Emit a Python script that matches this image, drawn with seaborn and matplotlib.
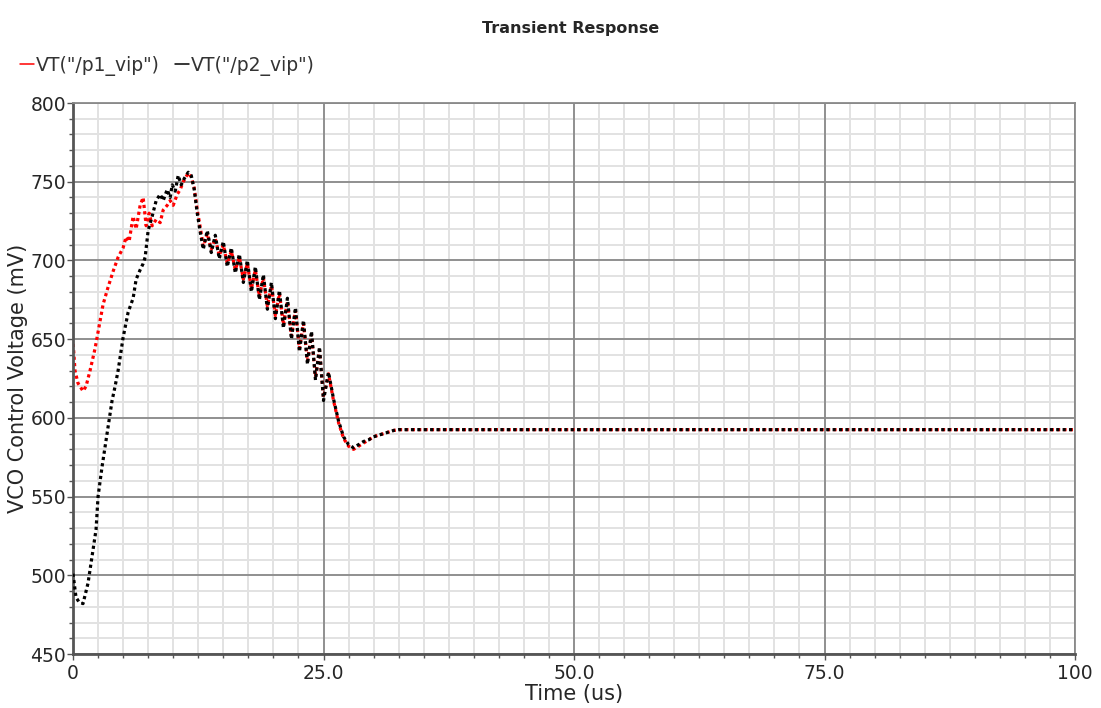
import numpy as np
import pandas as pd
import matplotlib
matplotlib.use("Agg")
import matplotlib.pyplot as plt
from matplotlib.lines import Line2D
from matplotlib.ticker import MultipleLocator
import seaborn as sns

# p1 (red) - time in us, voltage in mV
p1_time = [0, 0.2, 0.5, 0.8, 1.0, 1.3, 1.7, 2.2, 2.6, 3.0, 3.5, 4.0, 4.5, 5.0, 5.3,
           5.6, 6.0, 6.3, 6.7, 7.0, 7.3, 7.6, 7.9, 8.3, 8.7, 9.0, 9.4, 9.7, 10.0,
           10.4, 10.7, 11.0, 11.5, 11.8, 12.1, 12.4, 12.7,
           13.0, 13.4, 13.8, 14.2, 14.6, 15.0, 15.4, 15.8, 16.2, 16.6, 17.0, 17.4,
           17.8, 18.2, 18.6, 19.0, 19.4, 19.8, 20.2, 20.6, 21.0, 21.4, 21.8, 22.2,
           22.6, 23.0, 23.4, 23.8, 24.2, 24.6, 25.0,
           25.5, 26.0, 26.5, 27.0, 27.5, 28.0, 28.5, 29.0, 29.5, 30.0, 30.5, 31.0,
           31.5, 32.0, 32.5, 33.0, 100]
p1_mv = [649, 630, 622, 619, 617, 620, 630, 644, 658, 672, 683, 693, 702, 708, 715,
         712, 728, 720, 735, 740, 722, 730, 722, 726, 724, 732, 735, 738, 735,
         742, 745, 750, 755.5, 753, 746, 732, 721,
         709, 717, 707, 714, 703, 710, 698, 706, 694, 702, 688, 698, 682, 694,
         677, 689, 671, 684, 665, 679, 659, 674, 652, 668, 644, 660, 636, 653,
         626, 643, 613,
         628, 611, 597, 587, 582, 580, 582, 584, 586, 588, 589, 590, 591, 592,
         592.5, 592.5, 592.5]

# p2 (black)
p2_time = [0, 0.3, 0.6, 1.0, 1.5, 1.9, 2.3, 2.5, 2.9, 3.4, 3.9, 4.2, 4.5, 5.0, 5.5,
           6.0, 6.3, 6.7, 7.0, 7.2, 7.5, 7.9, 8.3, 8.7, 9.0, 9.4, 9.7, 9.9, 10.2,
           10.5, 10.8, 11.1, 11.5, 11.8, 12.1, 12.4, 12.7,
           13.0, 13.4, 13.8, 14.2, 14.6, 15.0, 15.4, 15.8, 16.2, 16.6, 17.0, 17.4,
           17.8, 18.2, 18.6, 19.0, 19.4, 19.8, 20.2, 20.6, 21.0, 21.4, 21.8, 22.2,
           22.6, 23.0, 23.4, 23.8, 24.2, 24.6, 25.0,
           25.5, 26.0, 26.5, 27.0, 27.5, 28.0, 28.5, 29.0, 29.5, 30.0, 30.5, 31.0,
           31.5, 32.0, 32.5, 33.0, 100]
p2_mv = [501, 486, 483, 482, 495, 512, 529, 550, 569, 590, 611, 620, 630, 651, 667,
         676, 688, 694, 698, 702, 719, 728, 738, 742, 738, 745, 740, 748, 744,
         754, 748, 752, 756, 754, 745, 730, 718,
         707, 719, 705, 716, 701, 712, 696, 708, 692, 704, 686, 700, 680, 696,
         675, 691, 669, 686, 663, 681, 657, 676, 650, 670, 642, 662, 634, 655,
         624, 645, 611,
         629, 612, 598, 588, 583, 581, 583, 585, 586, 588, 589, 590, 591, 592,
         592.5, 592.5, 592.5]

x_ticks = [0, 25, 50, 75, 100]
x_tick_labels = ["0", "25.0", "50.0", "75.0", "100"]
y_ticks = [450, 500, 550, 600, 650, 700, 750, 800]

df1 = pd.DataFrame({"t": p1_time, "v": p1_mv})
df2 = pd.DataFrame({"t": p2_time, "v": p2_mv})

sns.set_style("white")
plt.rcParams['font.family'] = ['DejaVu Sans']

fig = plt.figure(figsize=(11.01, 7.08), dpi=100)
ax = fig.add_axes([73 / 1101, 1 - 654 / 708, (1075 - 73) / 1101, (654 - 103) / 708])

# grid: light minor lines under darker major lines
minor_x = np.arange(0, 100.01, 2.5)
minor_y = np.arange(450, 800.01, 10)
ax.vlines(minor_x, 450, 800, color="#e2e2e2", lw=1.4, zorder=0.1)
ax.hlines(minor_y, 0, 100, color="#e2e2e2", lw=1.4, zorder=0.1)
ax.vlines(x_ticks, 450, 800, color="#8a8a8a", lw=1.3, zorder=0.2)
ax.hlines(y_ticks, 0, 100, color="#8a8a8a", lw=1.3, zorder=0.2)

sns.lineplot(data=df1, x="t", y="v", ax=ax, estimator=None, sort=False,
             color="#ff0000", lw=2.3, linestyle=(1, (1, 1)), zorder=2)
sns.lineplot(data=df2, x="t", y="v", ax=ax, estimator=None, sort=False,
             color="#000000", lw=2.3, linestyle=(0, (1, 1)), zorder=3)

ax.set_xlim(0, 100)
ax.set_ylim(450, 800)
ax.set_xticks(x_ticks)
ax.set_xticklabels(x_tick_labels)
ax.set_yticks(y_ticks)
ax.xaxis.set_minor_locator(MultipleLocator(2.5))
ax.yaxis.set_minor_locator(MultipleLocator(10))
ax.grid(False)

for s in ax.spines.values():
    s.set_color("#8a8a8a")
    s.set_linewidth(1.3)
ax.spines["left"].set_color("#555555")
ax.spines["bottom"].set_color("#555555")
ax.spines["left"].set_linewidth(2)
ax.spines["bottom"].set_linewidth(2)

ax.tick_params(which="both", direction="out", length=4, width=1, color="#555555",
               labelsize=13.5, left=True, bottom=True)
ax.tick_params(axis="y", pad=1)
ax.tick_params(axis="x", pad=3)
ax.tick_params(which="minor", length=3)

ax.set_xlabel("Time (us)", fontsize=15, va="center")
ax.xaxis.set_label_coords(0.5, -0.072)
ax.set_ylabel("VCO Control Voltage (mV)", fontsize=15, va="center")
ax.yaxis.set_label_coords(-0.0545, 0.5)

fig.text(571 / 1101, 1 - 29 / 708, "Transient Response", ha="center", va="center",
         fontsize=11.5, fontweight="bold")

handles = [Line2D([], [], color="#ff0000", lw=1.1),
           Line2D([], [], color="#000000", lw=1.1)]
fig.legend(handles, ['VT("/p1_vip")', 'VT("/p2_vip")'], loc="center left",
           bbox_to_anchor=(20 / 1101, 1 - 66 / 708), ncol=2, frameon=False,
           handlelength=0.75, handletextpad=0.1, columnspacing=0.8,
           fontsize=13.5, labelcolor="#333333", borderaxespad=0, borderpad=0)

fig.savefig("out.png", dpi=100)
